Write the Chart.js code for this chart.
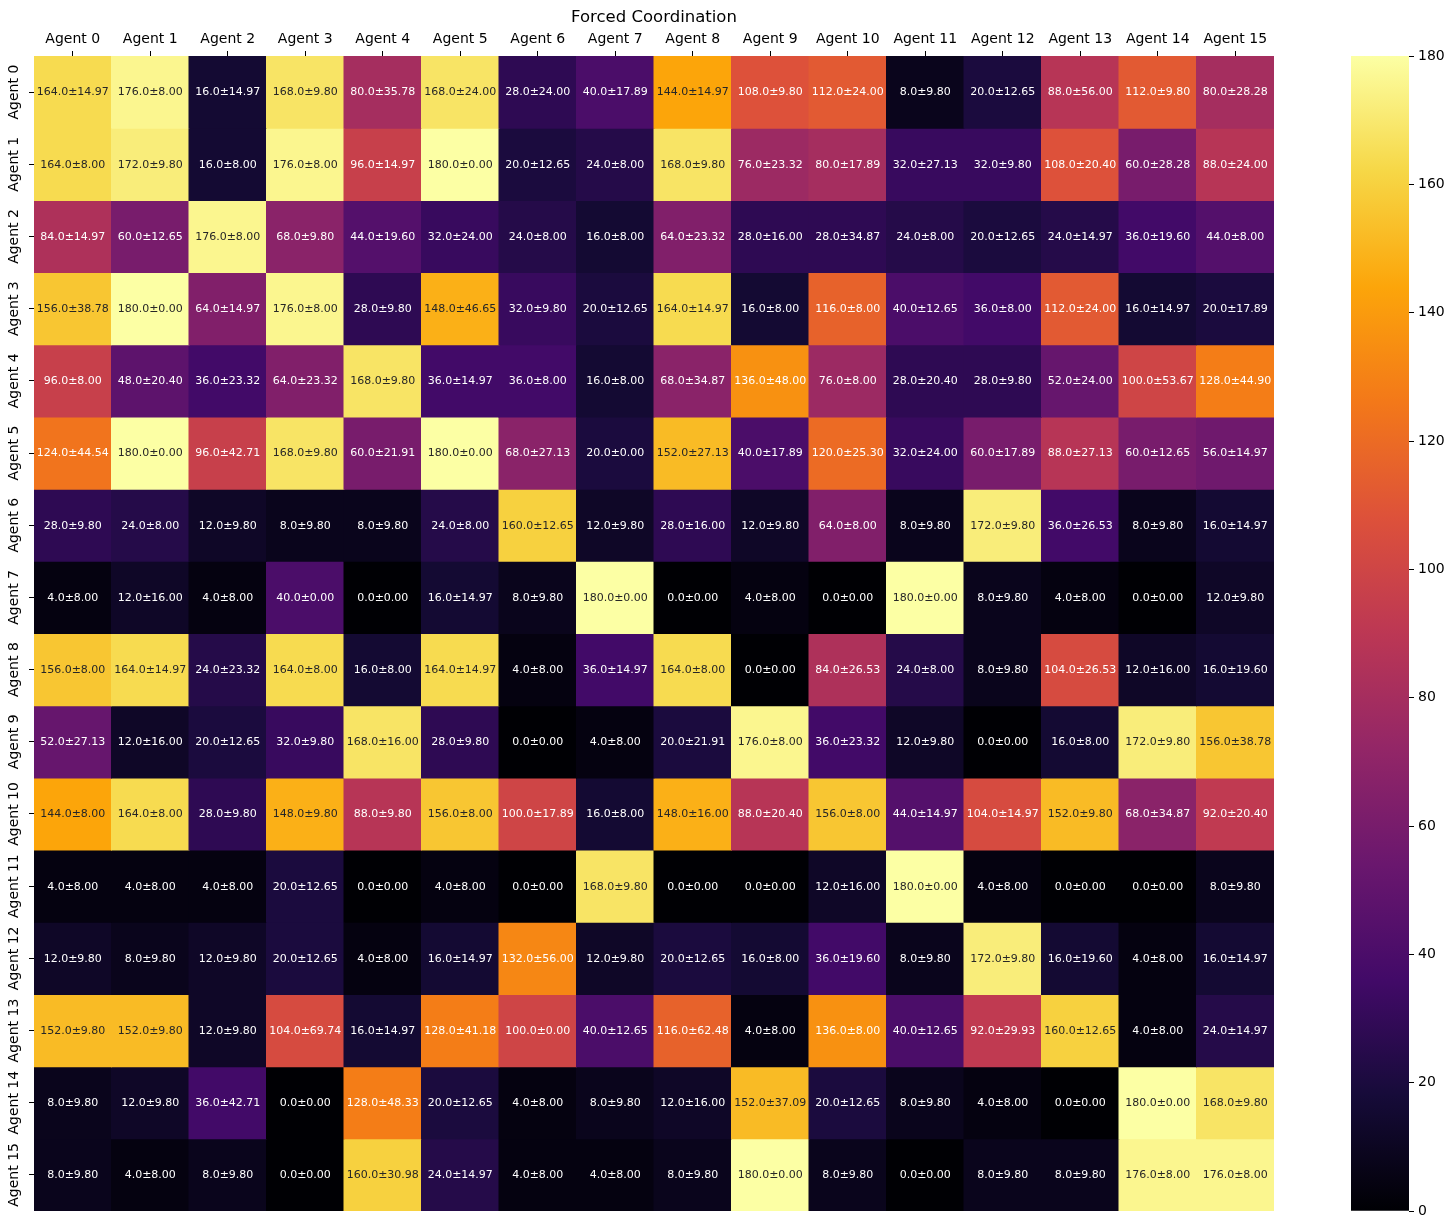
<!DOCTYPE html>
<html>
<head>
<meta charset="utf-8">
<script src="https://cdn.jsdelivr.net/npm/chart.js@4.4.1/dist/chart.umd.min.js"></script>
<style>
  body { margin: 0; background: #fff; }
  #heat { position: absolute; left: 0; top: 0; }
  #bar { position: absolute; left: 1300px; top: 0; }
</style>
</head>
<body>
<canvas id="heat" width="1300" height="1229"></canvas>
<canvas id="bar" width="155" height="1229"></canvas>
<script>
const agents = ["Agent 0", "Agent 1", "Agent 2", "Agent 3", "Agent 4", "Agent 5", "Agent 6", "Agent 7",
    "Agent 8", "Agent 9", "Agent 10", "Agent 11", "Agent 12", "Agent 13", "Agent 14", "Agent 15"];

const chartTitle = "Forced Coordination";

// mean per cell (row = agent on y, column = agent on x)
const means = [
    [164, 176, 16, 168, 80, 168, 28, 40, 144, 108, 112, 8, 20, 88, 112, 80],
    [164, 172, 16, 176, 96, 180, 20, 24, 168, 76, 80, 32, 32, 108, 60, 88],
    [84, 60, 176, 68, 44, 32, 24, 16, 64, 28, 28, 24, 20, 24, 36, 44],
    [156, 180, 64, 176, 28, 148, 32, 20, 164, 16, 116, 40, 36, 112, 16, 20],
    [96, 48, 36, 64, 168, 36, 36, 16, 68, 136, 76, 28, 28, 52, 100, 128],
    [124, 180, 96, 168, 60, 180, 68, 20, 152, 40, 120, 32, 60, 88, 60, 56],
    [28, 24, 12, 8, 8, 24, 160, 12, 28, 12, 64, 8, 172, 36, 8, 16],
    [4, 12, 4, 40, 0, 16, 8, 180, 0, 4, 0, 180, 8, 4, 0, 12],
    [156, 164, 24, 164, 16, 164, 4, 36, 164, 0, 84, 24, 8, 104, 12, 16],
    [52, 12, 20, 32, 168, 28, 0, 4, 20, 176, 36, 12, 0, 16, 172, 156],
    [144, 164, 28, 148, 88, 156, 100, 16, 148, 88, 156, 44, 104, 152, 68, 92],
    [4, 4, 4, 20, 0, 4, 0, 168, 0, 0, 12, 180, 4, 0, 0, 8],
    [12, 8, 12, 20, 4, 16, 132, 12, 20, 16, 36, 8, 172, 16, 4, 16],
    [152, 152, 12, 104, 16, 128, 100, 40, 116, 4, 136, 40, 92, 160, 4, 24],
    [8, 12, 36, 0, 128, 20, 4, 8, 12, 152, 20, 8, 4, 0, 180, 168],
    [8, 4, 8, 0, 160, 24, 4, 4, 8, 180, 8, 0, 8, 8, 176, 176]
];

// std per cell
const stds = [
    [14.97, 8.00, 14.97, 9.80, 35.78, 24.00, 24.00, 17.89, 14.97, 9.80, 24.00, 9.80, 12.65, 56.00, 9.80, 28.28],
    [8.00, 9.80, 8.00, 8.00, 14.97, 0.00, 12.65, 8.00, 9.80, 23.32, 17.89, 27.13, 9.80, 20.40, 28.28, 24.00],
    [14.97, 12.65, 8.00, 9.80, 19.60, 24.00, 8.00, 8.00, 23.32, 16.00, 34.87, 8.00, 12.65, 14.97, 19.60, 8.00],
    [38.78, 0.00, 14.97, 8.00, 9.80, 46.65, 9.80, 12.65, 14.97, 8.00, 8.00, 12.65, 8.00, 24.00, 14.97, 17.89],
    [8.00, 20.40, 23.32, 23.32, 9.80, 14.97, 8.00, 8.00, 34.87, 48.00, 8.00, 20.40, 9.80, 24.00, 53.67, 44.90],
    [44.54, 0.00, 42.71, 9.80, 21.91, 0.00, 27.13, 0.00, 27.13, 17.89, 25.30, 24.00, 17.89, 27.13, 12.65, 14.97],
    [9.80, 8.00, 9.80, 9.80, 9.80, 8.00, 12.65, 9.80, 16.00, 9.80, 8.00, 9.80, 9.80, 26.53, 9.80, 14.97],
    [8.00, 16.00, 8.00, 0.00, 0.00, 14.97, 9.80, 0.00, 0.00, 8.00, 0.00, 0.00, 9.80, 8.00, 0.00, 9.80],
    [8.00, 14.97, 23.32, 8.00, 8.00, 14.97, 8.00, 14.97, 8.00, 0.00, 26.53, 8.00, 9.80, 26.53, 16.00, 19.60],
    [27.13, 16.00, 12.65, 9.80, 16.00, 9.80, 0.00, 8.00, 21.91, 8.00, 23.32, 9.80, 0.00, 8.00, 9.80, 38.78],
    [8.00, 8.00, 9.80, 9.80, 9.80, 8.00, 17.89, 8.00, 16.00, 20.40, 8.00, 14.97, 14.97, 9.80, 34.87, 20.40],
    [8.00, 8.00, 8.00, 12.65, 0.00, 8.00, 0.00, 9.80, 0.00, 0.00, 16.00, 0.00, 8.00, 0.00, 0.00, 9.80],
    [9.80, 9.80, 9.80, 12.65, 8.00, 14.97, 56.00, 9.80, 12.65, 8.00, 19.60, 9.80, 9.80, 19.60, 8.00, 14.97],
    [9.80, 9.80, 9.80, 69.74, 14.97, 41.18, 0.00, 12.65, 62.48, 8.00, 8.00, 12.65, 29.93, 12.65, 8.00, 14.97],
    [9.80, 9.80, 42.71, 0.00, 48.33, 12.65, 8.00, 9.80, 16.00, 37.09, 12.65, 9.80, 8.00, 0.00, 0.00, 9.80],
    [9.80, 8.00, 9.80, 0.00, 30.98, 14.97, 8.00, 8.00, 9.80, 0.00, 9.80, 0.00, 9.80, 9.80, 8.00, 8.00]
];

const vmin = 0;
const vmax = 180;
const colorbarTicks = [0, 20, 40, 60, 80, 100, 120, 140, 160, 180];

// inferno colormap, sampled every 0.1
const inferno = ["#000004", "#160b39", "#420a68", "#6a176e", "#932667", "#bc3754",
    "#dd513a", "#f37819", "#fca50a", "#f6d746", "#fcffa4"];

const hexToRgb = (hex) => [1, 3, 5].map((i) => parseInt(hex.slice(i, i + 2), 16));

const colorFor = (value) => {
    let t = (value - vmin) / (vmax - vmin);
    t = Math.min(1, Math.max(0, t));
    const pos = t * (inferno.length - 1);
    const i = Math.min(inferno.length - 2, Math.floor(pos));
    const f = pos - i;
    const a = hexToRgb(inferno[i]);
    const b = hexToRgb(inferno[i + 1]);
    return a.map((c, k) => Math.round(c + (b[k] - c) * f));
};

const luminance = (rgb) => {
    const lin = rgb.map((c) => {
        c = c / 255;
        return c <= 0.03928 ? c / 12.92 : Math.pow((c + 0.055) / 1.055, 2.4);
    });
    return 0.2126 * lin[0] + 0.7152 * lin[1] + 0.0722 * lin[2];
};

const rgbStr = (rgb) => `rgb(${rgb[0]}, ${rgb[1]}, ${rgb[2]})`;

const datasets = means.map((row, r) => ({
    label: agents[r],
    data: row.map(() => [r, r + 1]),
    backgroundColor: row.map((v) => rgbStr(colorFor(v))),
    borderWidth: 0,
    grouped: false,
    barPercentage: 1,
    categoryPercentage: 1,
    inflateAmount: 0.5,
}));

// writes "mean±std" in each cell and the rotated y labels
const cellText = {
    id: "cellText",
    afterDatasetsDraw(chart) {
        const ctx = chart.ctx;
        ctx.save();
        ctx.font = "11px 'DejaVu Sans'";
        ctx.textAlign = "center";
        ctx.textBaseline = "middle";
        chart.data.datasets.forEach((ds, r) => {
            const meta = chart.getDatasetMeta(r);
            meta.data.forEach((bar, c) => {
                const v = means[r][c];
                ctx.fillStyle = luminance(colorFor(v)) > 0.408 ? "#262626" : "#ffffff";
                const y = (bar.y + bar.base) / 2;
                ctx.fillText(`${v.toFixed(1)}±${stds[r][c].toFixed(2)}`, bar.x, y + 0.5);
            });
        });
        const yScale = chart.scales.y;
        ctx.font = "14px 'DejaVu Sans'";
        ctx.fillStyle = "#000";
        agents.forEach((name, r) => {
            const y = yScale.getPixelForValue(r + 0.5);
            ctx.save();
            ctx.translate(yScale.right - 20, y);
            ctx.rotate(-Math.PI / 2);
            ctx.fillText(name, 0, 0);
            ctx.restore();
        });
        ctx.restore();
    },
};

const heatmap = new Chart(document.querySelector("#heat"), {
    type: "bar",
    data: { labels: agents, datasets },
    plugins: [cellText],
    options: {
        responsive: false,
        animation: false,
        layout: { padding: { top: 0, right: 26, bottom: 18, left: 0 } },
        plugins: { legend: { display: false }, tooltip: { enabled: false } },
        scales: {
            x: {
                position: "top",
                offset: true,
                grid: { offset: false, drawOnChartArea: false, tickLength: 5, color: "#000", tickWidth: 1 },
                border: { display: false },
                ticks: { color: "#000", font: { family: "DejaVu Sans", size: 14 }, padding: 3, maxRotation: 0 },
                title: {
                    display: true,
                    text: chartTitle,
                    color: "#000",
                    font: { family: "DejaVu Sans", size: 16.5 },
                    padding: { top: 8, bottom: 0 },
                },
                afterFit: (scale) => { scale.height = 56; },
            },
            y: {
                type: "linear",
                min: 0,
                max: 16,
                reverse: true,
                afterBuildTicks: (scale) => {
                    scale.ticks = agents.map((a, i) => ({ value: i + 0.5 }));
                },
                grid: { drawOnChartArea: false, tickLength: 5, color: "#000" },
                border: { display: false },
                ticks: { display: false },
                afterFit: (scale) => { scale.width = 34; },
            },
        },
    },
});

// colorbar
const colorbar = new Chart(document.querySelector("#bar"), {
    type: "bar",
    data: {
        labels: [""],
        datasets: [{
            data: [[vmin, vmax]],
            borderWidth: 0,
            barPercentage: 1,
            categoryPercentage: 1,
            backgroundColor: (c) => {
                const area = c.chart.chartArea;
                if (!area) return null;
                const g = c.chart.ctx.createLinearGradient(0, area.bottom, 0, area.top);
                inferno.forEach((col, i) => g.addColorStop(i / (inferno.length - 1), col));
                return g;
            },
        }],
    },
    options: {
        responsive: false,
        animation: false,
        layout: { padding: { top: 56, right: 0, bottom: 18, left: 51 } },
        plugins: { legend: { display: false }, tooltip: { enabled: false } },
        scales: {
            x: { display: false },
            y: {
                position: "right",
                min: vmin,
                max: vmax,
                afterBuildTicks: (scale) => {
                    scale.ticks = colorbarTicks.map((v) => ({ value: v }));
                },
                grid: { drawOnChartArea: false, tickLength: 5, color: "#000" },
                border: { display: false },
                ticks: { color: "#000", font: { family: "DejaVu Sans", size: 14 }, padding: 4 },
                afterFit: (scale) => { scale.width = 46; },
            },
        },
    },
});
</script>
</body>
</html>
